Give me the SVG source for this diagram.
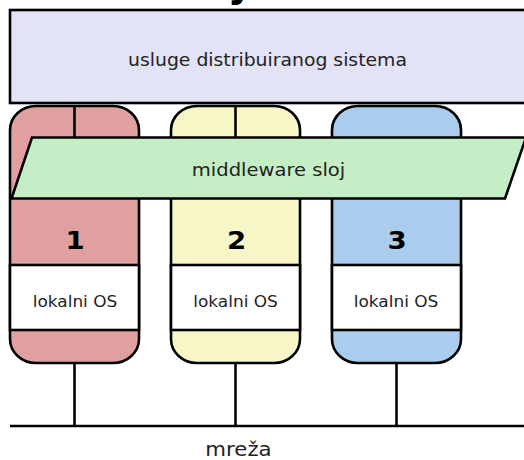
<svg xmlns="http://www.w3.org/2000/svg" width="524" height="460" viewBox="0 0 524 460">
  <style>
    .ln { stroke: #000; stroke-width: 2.6; fill: none; }
    .box { stroke: #000; stroke-width: 2.6; }
    .lbl { font-family: "DejaVu Sans", "Liberation Sans", sans-serif; fill: #222; text-anchor: middle; }
    .num { font-family: "DejaVu Sans", "Liberation Sans", sans-serif; font-weight: bold; font-size: 24px; fill: #000; text-anchor: middle; }
    .os { font-size: 15px; }
  </style>
  <rect width="524" height="460" fill="#fff"/>

  <!-- clipped title glyph at the top edge -->
  <text x="233" y="-4" font-family="DejaVu Sans, sans-serif" font-weight="bold" font-size="40" fill="#000">j</text>

  <!-- network links -->
  <g id="connectors">
    <line class="ln" x1="74.5" y1="362" x2="74.5" y2="426"/>
    <line class="ln" x1="235.5" y1="362" x2="235.5" y2="426"/>
    <line class="ln" x1="396.5" y1="362" x2="396.5" y2="426"/>
    <line class="ln" x1="10" y1="426" x2="530" y2="426"/>
  </g>

  <g id="node1">
    <path class="box" fill="#e0a0a0" d="M10,130 A26,24 0 0 1 36,106 H113 A26,24 0 0 1 139,130 V339 A26,24 0 0 1 113,363 H36 A26,24 0 0 1 10,339 Z"/>
    <line class="ln" x1="74.5" y1="106" x2="74.5" y2="140"/>
    <rect class="box" fill="#fff" x="10" y="265" width="129" height="65"/>
    <text class="num" transform="translate(75,248.5) scale(1.15,1)">1</text>
    <text class="lbl os" transform="translate(75,306.5) scale(1.13,1)">lokalni OS</text>
  </g>

  <g id="node2">
    <path class="box" fill="#f6f6c6" d="M171,130 A26,24 0 0 1 197,106 H274 A26,24 0 0 1 300,130 V339 A26,24 0 0 1 274,363 H197 A26,24 0 0 1 171,339 Z"/>
    <line class="ln" x1="235.5" y1="106" x2="235.5" y2="140"/>
    <rect class="box" fill="#fff" x="171" y="265" width="129" height="65"/>
    <text class="num" transform="translate(236.5,248.5) scale(1.15,1)">2</text>
    <text class="lbl os" transform="translate(235.5,306.5) scale(1.13,1)">lokalni OS</text>
  </g>

  <g id="node3">
    <path class="box" fill="#aacdee" d="M332,130 A26,24 0 0 1 358,106 H435 A26,24 0 0 1 461,130 V339 A26,24 0 0 1 435,363 H358 A26,24 0 0 1 332,339 Z"/>
    <rect class="box" fill="#fff" x="332" y="265" width="129" height="65"/>
    <text class="num" transform="translate(397,248.5) scale(1.15,1)">3</text>
    <text class="lbl os" transform="translate(396,306.5) scale(1.13,1)">lokalni OS</text>
  </g>

  <g id="middleware">
    <polygon class="box" fill="#c6eec6" points="32,137.5 526,137.5 505,198.5 11.5,198.5"/>
    <text class="lbl" font-size="17" transform="translate(268.5,176) scale(1.15,1)">middleware sloj</text>
  </g>

  <g id="services">
    <rect class="box" fill="#e3e3f8" x="10" y="10" width="520" height="93" stroke-width="3"/>
    <text class="lbl" font-size="17.5" transform="translate(267.5,65.5) scale(1.075,1)">usluge distribuiranog sistema</text>
  </g>

  <g id="network-label">
    <text class="lbl" font-size="19" transform="translate(238.5,456) scale(1.12,1)">mreža</text>
  </g>
</svg>
